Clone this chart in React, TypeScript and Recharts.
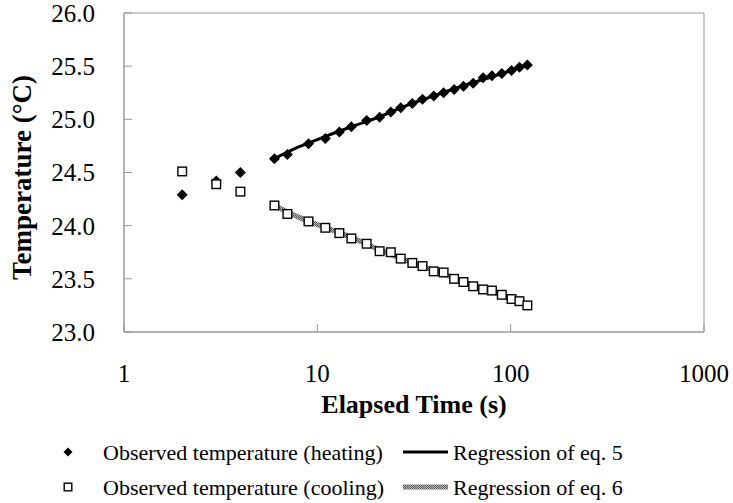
import React from 'react';
import {
	ComposedChart,
	Line,
	Scatter,
	XAxis,
	YAxis,
	ReferenceArea,
	Label,
} from 'recharts';

// observed sample times (s)
const times = [2, 3, 4, 6, 7, 9, 11, 13, 15, 18, 21, 24, 27, 31, 35, 40, 45, 51, 57, 64, 72, 80, 90, 101, 111, 122];

const heating = [
	24.29, 24.42, 24.5, 24.63, 24.67, 24.77, 24.82, 24.88, 24.93, 24.99, 25.02, 25.07, 25.11, 25.15, 25.19,
	25.22, 25.25, 25.28, 25.31, 25.34, 25.39, 25.41, 25.43, 25.46, 25.49, 25.51,
];

const cooling = [
	24.51, 24.39, 24.32, 24.19, 24.11, 24.04, 23.98, 23.93, 23.88, 23.83, 23.76, 23.75, 23.69, 23.65, 23.62,
	23.57, 23.56, 23.5, 23.47, 23.43, 23.4, 23.39, 23.35, 23.31, 23.29, 23.25,
];

// regression curves
const regTimes = [6, 8, 10, 15, 20, 30, 40, 60, 80, 122];
const regHeating = [24.63, 24.74, 24.81, 24.93, 25.01, 25.14, 25.22, 25.33, 25.4, 25.51];
const regCooling = [24.19, 24.08, 24.01, 23.89, 23.79, 23.66, 23.58, 23.46, 23.38, 23.25];

const xTicks = [1, 10, 100, 1000];
const yTicks = [23, 23.5, 24, 24.5, 25, 25.5, 26];

const FONT = '"Liberation Serif", "Times New Roman", serif';

const heatingObs = times.map((t, i) => ({ t, v: heating[i] }));
const coolingObs = times.map((t, i) => ({ t, v: cooling[i] }));
const heatingReg = regTimes.map((t, i) => ({ t, v: regHeating[i] }));
const coolingReg = regTimes.map((t, i) => ({ t, v: regCooling[i] }));

const Diamond = ({ cx, cy, r = 5.5 }: any) => (
	<polygon points={`${cx},${cy - r} ${cx + r},${cy} ${cx},${cy + r} ${cx - r},${cy}`} fill='#000' />
);

const Square = ({ cx, cy, r = 4.3 }: any) => (
	<rect x={cx - r} y={cy - r} width={r * 2} height={r * 2} fill='#fff' stroke='#000' strokeWidth={1.4} />
);

const txt = (size: number, bold = false): React.CSSProperties => ({
	fontFamily: FONT,
	fontSize: size,
	fontWeight: bold ? 'bold' : 'normal',
	fill: '#000',
});

const XTick = ({ x, y, payload }: any) => (
	<text x={x} y={y} dy='0.71em' textAnchor='middle' style={txt(25)}>
		{String(payload.value)}
	</text>
);

const YTick = ({ x, y, payload }: any) => (
	<text x={x} y={y} dy='0.355em' textAnchor='end' style={txt(25)}>
		{Number(payload.value).toFixed(1)}
	</text>
);

const XTitle = ({ viewBox }: any) => (
	<text x={viewBox.x + viewBox.width / 2} y={viewBox.y + viewBox.height - 9} textAnchor='middle' style={txt(26, true)}>
		Elapsed Time (s)
	</text>
);

const YTitle = ({ viewBox }: any) => {
	const cx = viewBox.x + 31;
	const cy = viewBox.y + viewBox.height / 2 + 5;
	return (
		<text x={cx} y={cy} textAnchor='middle' transform={`rotate(-90, ${cx}, ${cy})`} style={txt(27, true)}>
			Temperature (°C)
		</text>
	);
};

export default function App() {
	return (
		<div
			className='chart-root'
			style={{ position: 'absolute', left: 0, top: 0, width: 733, height: 503, background: '#fff', fontFamily: FONT }}
		>
			<svg width={0} height={0} style={{ position: 'absolute' }}>
				<defs>
					<pattern id='grayTexture' width={2} height={2} patternUnits='userSpaceOnUse'>
						<rect width={2} height={2} fill='#b8b8b8' />
						<rect width={1} height={1} fill='#555' />
						<rect x={1} y={1} width={1} height={1} fill='#555' />
					</pattern>
				</defs>
			</svg>

			<ComposedChart
				width={733}
				height={503}
				margin={{ top: 13, right: 29, bottom: 81, left: 0 }}
			>
				<XAxis
					dataKey='t'
					type='number'
					scale='log'
					domain={[1, 1000]}
					ticks={xTicks}
					interval={0}
					allowDataOverflow
					height={90}
					stroke='#999'
					tickSize={-8}
					tickMargin={40}
					tick={<XTick />}
				>
					<Label content={<XTitle />} />
				</XAxis>
				<YAxis
					dataKey='v'
					type='number'
					domain={[23, 26]}
					ticks={yTicks}
					interval={0}
					width={124}
					stroke='#999'
					tickSize={-8}
					tickMargin={37}
					tick={<YTick />}
				>
					<Label content={<YTitle />} />
				</YAxis>

				<ReferenceArea x1={1} x2={1000} y1={23} y2={26} fill='none' stroke='#999' strokeWidth={1} />

				<Line
					data={heatingReg}
					dataKey='v'
					type='monotone'
					stroke='#000'
					strokeWidth={3}
					dot={false}
					isAnimationActive={false}
				/>
				<Line
					data={coolingReg}
					dataKey='v'
					type='monotone'
					stroke='url(#grayTexture)'
					strokeWidth={5}
					dot={false}
					isAnimationActive={false}
				/>

				<Scatter data={heatingObs} dataKey='v' shape={<Diamond />} isAnimationActive={false} />
				<Scatter data={coolingObs} dataKey='v' shape={<Square />} isAnimationActive={false} />
			</ComposedChart>

			<svg
				width={733}
				height={503}
				style={{ position: 'absolute', left: 0, top: 0, pointerEvents: 'none' }}
			>
				<g style={txt(22)}>
					<Diamond cx={68} cy={452} r={4.5} />
					<text x={103} y={452} dominantBaseline='central'>
						Observed temperature (heating)
					</text>
					<line x1={403} x2={448} y1={452} y2={452} stroke='#000' strokeWidth={3} />
					<text x={453} y={452} dominantBaseline='central'>
						Regression of eq. 5
					</text>

					<Square cx={68} cy={487} r={3.8} />
					<text x={103} y={487} dominantBaseline='central'>
						Observed temperature (cooling)
					</text>
					<line x1={403} x2={448} y1={487} y2={487} stroke='url(#grayTexture)' strokeWidth={5} />
					<text x={453} y={487} dominantBaseline='central'>
						Regression of eq. 6
					</text>
				</g>
			</svg>
		</div>
	);
}
